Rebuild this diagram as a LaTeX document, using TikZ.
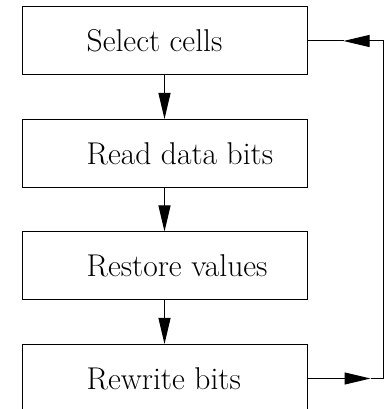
\documentclass[tikz,border=0pt]{standalone}
\usepackage{tikz}
\usetikzlibrary{arrows.meta,positioning}

\begin{document}
\begin{tikzpicture}[x=1pt,y=1pt,
	stepbox/.style={draw, line width=1pt, minimum width=285pt, minimum height=68pt, inner sep=0pt},
	steptext/.style={anchor=west, inner sep=0pt, xshift=65pt, font=\fontsize{31.5}{36}\selectfont},
	flow/.style={line width=1pt, -{Triangle[length=26pt,width=12pt]}}]
		\useasboundingbox (0,0) rectangle (386,409);
		\node [stepbox] (select) at (164.5,368) {};
		\node [stepbox, below=43.5pt of select] (read) {};
		\node [stepbox, below=43.5pt of read] (restore) {};
		\node [stepbox, below=43.5pt of restore] (rewrite) {};
		\node [steptext] (selectlbl) at (select.west) {Select cells};
		\node [steptext] (readlbl) at (read.west) {Read data bits};
		\node [steptext] (restorelbl) at (restore.west) {Restore values};
		\node [steptext] (rewritelbl) at (rewrite.west) {Rewrite bits};
		\draw [flow] (select) -- (read);
		\draw [flow] (read) -- (restore);
		\draw [flow] (restore) -- (rewrite);
		\coordinate (tipr) at ([xshift=63pt]rewrite.east);
		\coordinate (cornerb) at ([xshift=76pt]rewrite.east);
		\coordinate (cornert) at ([xshift=76pt]select.east);
		\coordinate (tipl) at ([xshift=36pt]select.east);
		\draw [flow] (rewrite.east) -- (tipr);
		\draw [line width=1pt] (tipr) -- (cornerb) -- (cornert);
		\draw [flow] (cornert) -- (tipl);
		\draw [line width=1pt] (tipl) -- (select.east);
\end{tikzpicture}
\end{document}
